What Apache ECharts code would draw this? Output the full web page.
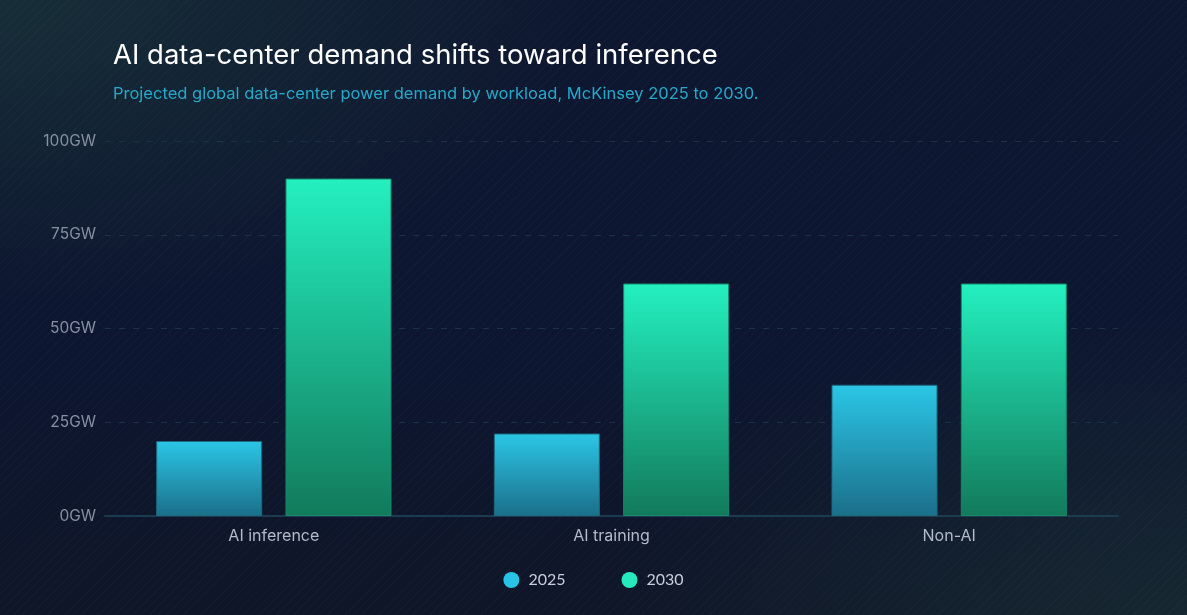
<!DOCTYPE html>
<html>
<head>
<meta charset="utf-8">
<script src="https://cdn.jsdelivr.net/npm/echarts@6/dist/echarts.min.js"></script>
<style>
  html, body { margin: 0; padding: 0; width: 1187px; height: 615px; overflow: hidden; }
  body {
    background:
      repeating-linear-gradient(135deg, rgba(255,255,255,0.018) 0px, rgba(255,255,255,0.018) 1px, rgba(0,0,0,0) 1px, rgba(0,0,0,0) 6px),
      radial-gradient(ellipse at 0% 0%, rgba(40,90,70,0.35) 0%, rgba(0,0,0,0) 35%),
      radial-gradient(ellipse at 100% 100%, rgba(40,80,70,0.3) 0%, rgba(0,0,0,0) 35%),
      linear-gradient(180deg, #0e1730 0%, #0d1630 60%, #0f1628 100%);
  }
  #chart { width: 1187px; height: 615px; }
</style>
</head>
<body>
<div id="chart"></div>
<script>
// 数据
var categories = ['AI inference', 'AI training', 'Non-AI'];
var years = ['2025', '2030'];
var demand2025 = [20, 22, 35];
var demand2030 = [90, 62, 62];
var yTicks = [0, 25, 50, 75, 100];
var legendColors = ['#29c3e5', '#26eabb'];

function grad(top, bottom) {
    return new echarts.graphic.LinearGradient(0, 0, 0, 1, [
        { offset: 0, color: top },
        { offset: 1, color: bottom }
    ]);
}

var option = {
    backgroundColor: 'transparent',
    animation: false,
    title: {
        text: 'AI data-center demand shifts toward inference',
        subtext: 'Projected global data-center power demand by workload, McKinsey 2025 to 2030.',
        left: 108,
        top: 37,
        itemGap: 16,
        textStyle: {
            color: '#ffffff',
            fontFamily: 'Inter',
            fontSize: 27.5,
            fontWeight: 'normal'
        },
        subtextStyle: {
            color: '#26a9c9',
            fontFamily: 'Inter',
            fontSize: 16.5
        }
    },
    legend: {
        data: years.map(function (y, i) {
            return { name: y, itemStyle: { color: legendColors[i], borderWidth: 0 } };
        }),
        bottom: 22,
        left: 'center',
        icon: 'circle',
        itemWidth: 16,
        itemHeight: 16,
        itemGap: 56,
        textStyle: {
            color: '#c9ceda',
            fontFamily: 'Lato',
            fontSize: 16,
            padding: [0, 0, 0, 4]
        }
    },
    grid: {
        left: 105,
        right: 69,
        top: 141,
        bottom: 99
    },
    xAxis: {
        type: 'category',
        data: categories,
        axisLine: { lineStyle: { color: '#1b3c4e', width: 2 } },
        axisTick: { show: false },
        axisLabel: {
            color: '#b4bac8',
            fontFamily: 'Inter',
            fontSize: 16,
            margin: 12
        }
    },
    yAxis: {
        type: 'value',
        min: yTicks[0],
        max: yTicks[yTicks.length - 1],
        interval: 25,
        axisLine: { show: false },
        axisTick: { show: false },
        axisLabel: {
            color: '#8890a2',
            fontFamily: 'Inter',
            fontSize: 15.5,
            margin: 9,
            formatter: '{value}GW'
        },
        splitLine: {
            lineStyle: { color: '#1a3344', type: [6, 8], width: 1 }
        }
    },
    series: [{
        name: years[0],
        type: 'bar',
        data: demand2025,
        barWidth: 106,
        barGap: '22%',
        itemStyle: {
            color: grad('#2bc6e6', '#1b6f8a'),
            borderColor: '#1d6a80',
            borderWidth: 1
        }
    }, {
        name: years[1],
        type: 'bar',
        data: demand2030,
        barWidth: 106,
        barGap: '22%',
        itemStyle: {
            color: grad('#24f0c0', '#127a5b'),
            borderColor: '#168a6a',
            borderWidth: 1
        }
    }]
};

var myChart = echarts.init(document.getElementById('chart'));
myChart.setOption(option);
</script>
</body>
</html>
